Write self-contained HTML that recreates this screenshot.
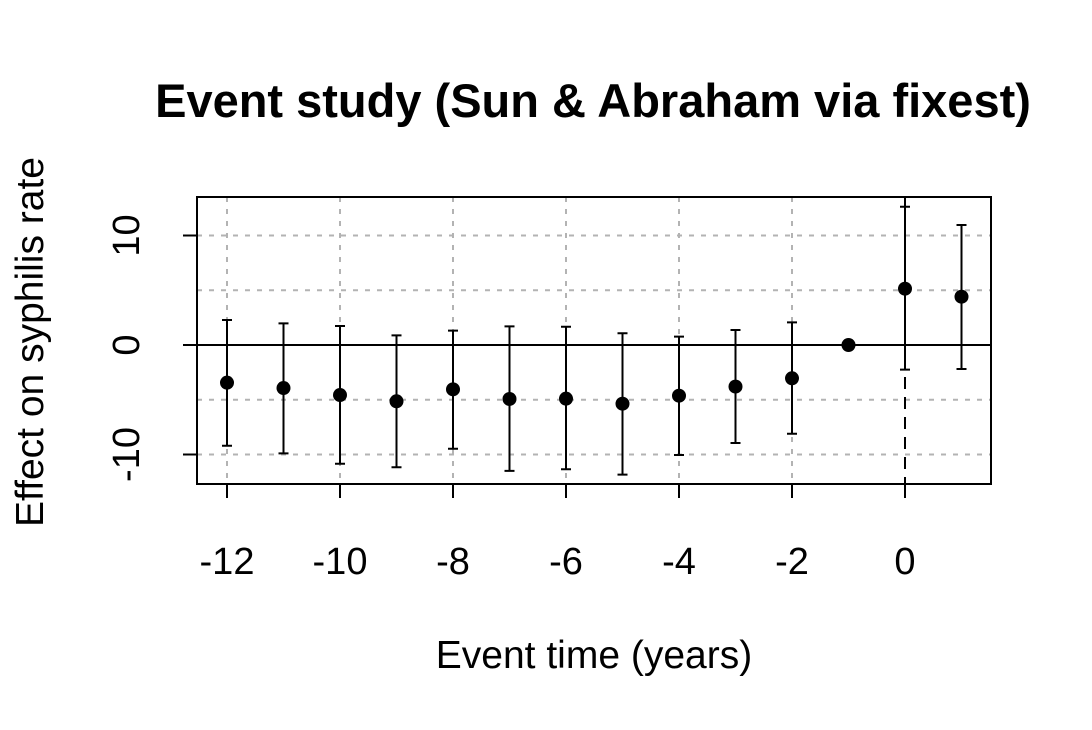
<!DOCTYPE html>
<html><head><meta charset="utf-8"><style>
body{margin:0;background:#fff}
svg{display:block;font-family:"Liberation Sans",Arial,sans-serif}
</style></head><body>
<svg id="chart" width="1092" height="730" viewBox="0 0 1092 730">
<rect width="1092" height="730" fill="#fff"/>
<text x="593" y="117" font-size="47" font-weight="bold" text-anchor="middle">Event study (Sun &amp; Abraham via fixest)</text>
<text x="594" y="668" font-size="39" text-anchor="middle">Event time (years)</text>
<text transform="translate(43,342) rotate(-90)" font-size="39" text-anchor="middle">Effect on syphilis rate</text>
<g id="grid"></g><g id="axes"></g><g id="marks"></g>
<rect x="197" y="197" width="794" height="287" fill="none" stroke="#000" stroke-width="2"/>
</svg>
<script>
const periods=[-12,-11,-10,-9,-8,-7,-6,-5,-4,-3,-2,-1,0,1];
const estimates=[-3.44,-3.93,-4.57,-5.14,-4.05,-4.93,-4.9,-5.36,-4.63,-3.8,-3.04,0,5.14,4.41];
const ciUpper=[2.28,1.98,1.74,0.88,1.31,1.7,1.67,1.07,0.76,1.37,2.07,null,12.63,10.96];
const ciLower=[-9.2,-9.9,-10.84,-11.17,-9.47,-11.5,-11.35,-11.84,-10.05,-8.95,-8.1,null,-2.25,-2.19];
const xTicks=[-12,-10,-8,-6,-4,-2,0];
const yTicks=[-10,0,10];
const yGrid=[-10,-5,0,5,10];
const X=v=>905+(v-0)*56.5;
const Y=v=>345-v*10.95;
const NS="http://www.w3.org/2000/svg";
function mk(t,a,p){const e=document.createElementNS(NS,t);for(const k in a)e.setAttribute(k,a[k]);p.appendChild(e);return e;}
const grid=document.getElementById('grid'),axes=document.getElementById('axes'),marks=document.getElementById('marks');
xTicks.forEach(v=>{if(v===0)return;const l=mk('line',{x1:X(v),x2:X(v),y1:197,y2:484,stroke:'#b3b3b3','stroke-width':2,'stroke-dasharray':'5 7'},grid);

});
yGrid.forEach(v=>{if(v===0)return;const l=mk('line',{x1:197,x2:991,y1:Y(v),y2:Y(v),stroke:'#b3b3b3','stroke-width':2,'stroke-dasharray':'5 7'},grid);

});
const z=mk('line',{x1:197,x2:991,y1:Y(0),y2:Y(0),stroke:'#000','stroke-width':2},grid);


const vz=mk('line',{x1:X(0),x2:X(0),y1:197,y2:484,stroke:'#000','stroke-width':2,'stroke-dasharray':'12 8'},grid);


xTicks.forEach(v=>{const t=mk('line',{x1:X(v),x2:X(v),y1:484,y2:498,stroke:'#000','stroke-width':2},axes);


const tx=mk('text',{x:X(v),y:574,'font-size':38,'text-anchor':'middle'},axes);tx.textContent=v;

});
yTicks.forEach(v=>{const t=mk('line',{x1:183,x2:197,y1:Y(v),y2:Y(v),stroke:'#000','stroke-width':2},axes);


const tx=mk('text',{transform:`translate(139,${Y(v)}) rotate(-90)`,'font-size':38,'text-anchor':'middle'},axes);tx.textContent=v;

});
periods.forEach((p,i)=>{const x=X(p);
if(ciUpper[i]!==null){
const g=mk('path',{d:`M${x},${Y(ciUpper[i])}V${Y(ciLower[i])}M${x-5},${Y(ciUpper[i])}H${x+5}M${x-5},${Y(ciLower[i])}H${x+5}`,stroke:'#000','stroke-width':2,fill:'none'},marks);

}
const c=mk('circle',{cx:x,cy:Y(estimates[i]),r:7,fill:'#000'},marks);

});
</script>
</body></html>
